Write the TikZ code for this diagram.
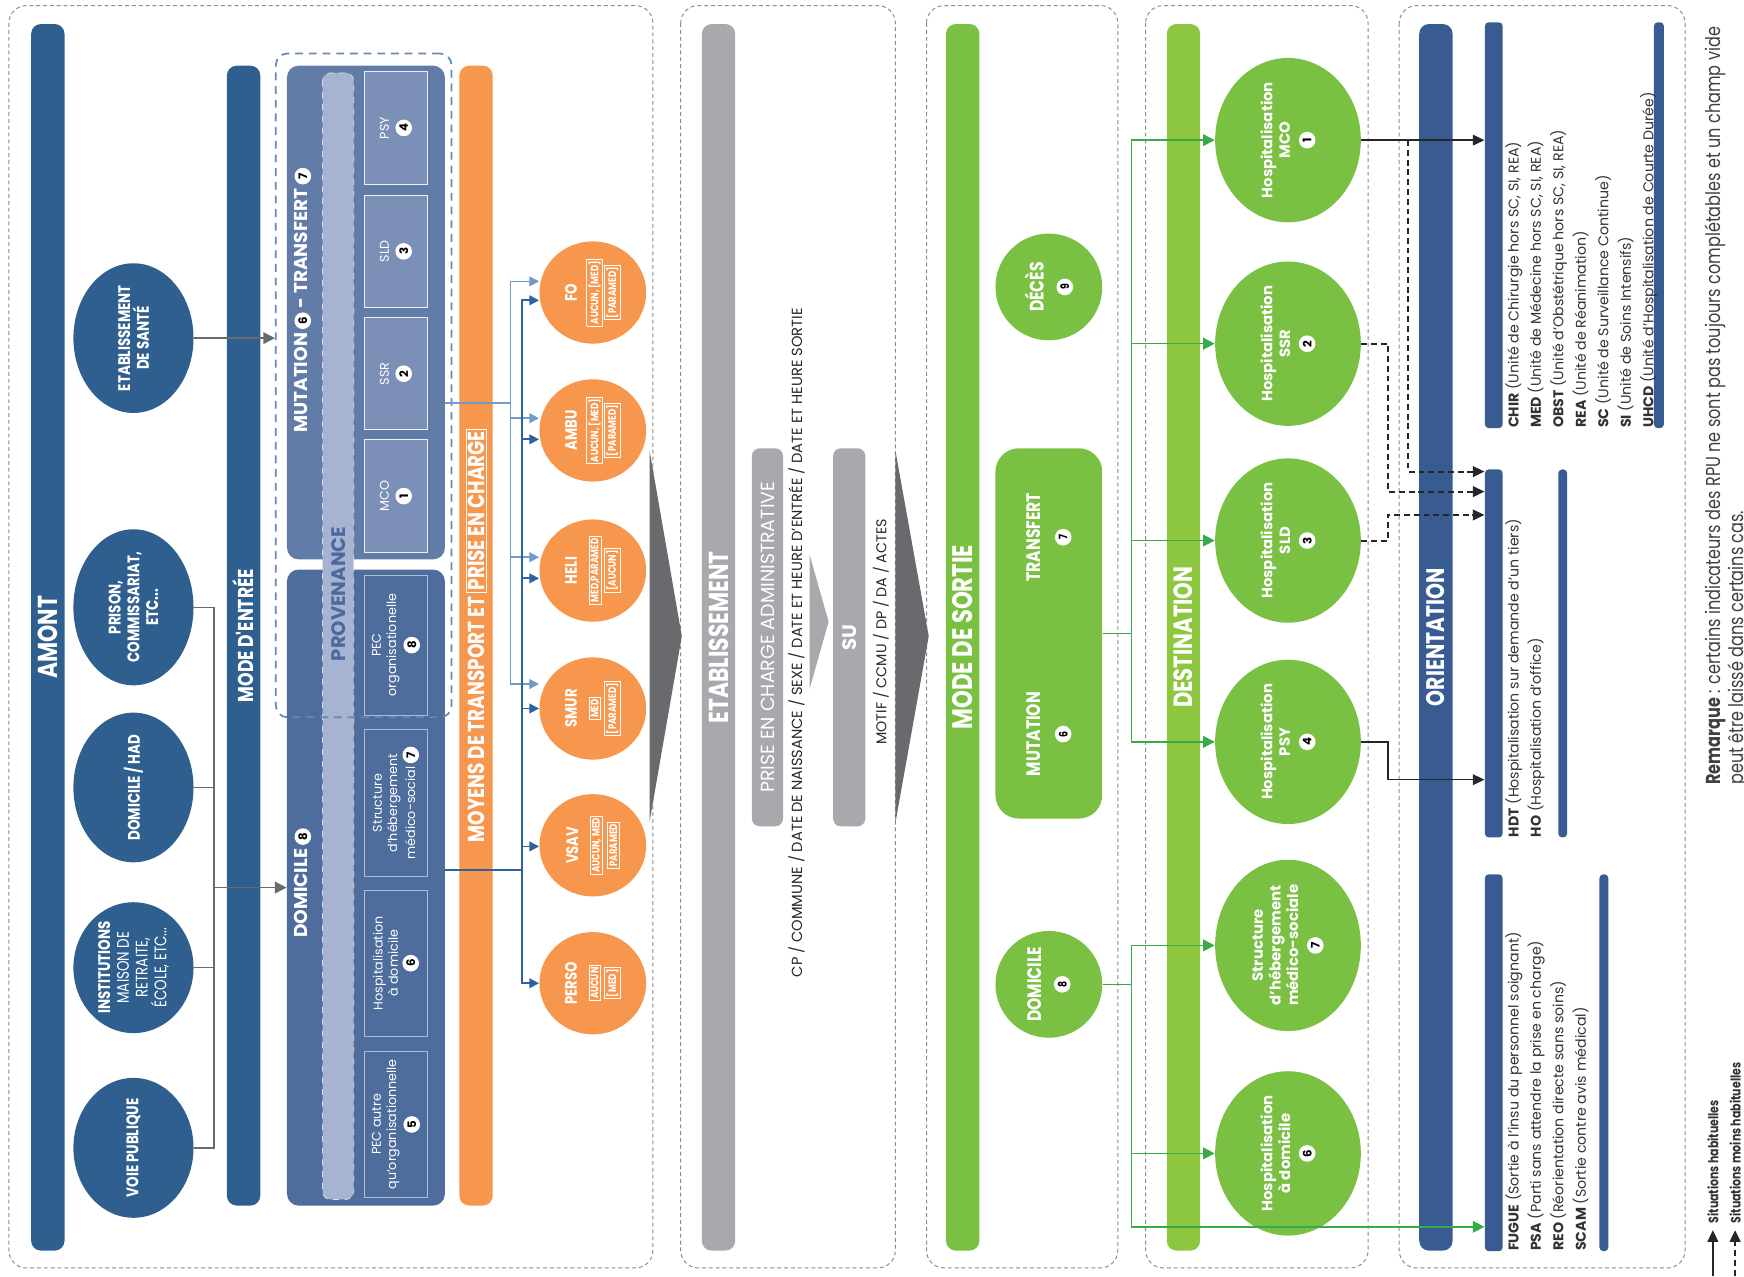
\documentclass[tikz,border=0pt]{standalone}
\usepackage{fontspec}
\setmainfont{Poppins}
\newfontfamily\condfont[FakeStretch=0.8]{Poppins}
\usetikzlibrary{positioning, arrows.meta, shapes.geometric, calc}

\definecolor{amontblue}{RGB}{47,95,143}
\definecolor{mutblue}{RGB}{98,124,168}
\definecolor{subblue}{RGB}{124,143,183}
\definecolor{domblue}{RGB}{78,108,156}
\definecolor{provband}{RGB}{166,179,209}
\definecolor{provtext}{RGB}{74,106,158}
\definecolor{transorange}{RGB}{247,150,77}
\definecolor{etabgray}{RGB}{167,169,172}
\definecolor{darkgray}{RGB}{105,106,109}
\definecolor{sortiegreen}{RGB}{122,192,66}
\definecolor{destgreen}{RGB}{141,198,63}
\definecolor{linkgreen}{RGB}{57,170,73}
\definecolor{orientblue}{RGB}{56,92,145}
\definecolor{lightlink}{RGB}{112,155,200}
\definecolor{darklink}{RGB}{47,96,160}

% white disc with the code number
\newcommand\cnum[1]{\tikz[baseline=(c.base)]\node[circle, fill=white, inner sep=0pt,
  minimum size=8.5pt, text=black, font=\fontsize{6}{6}\selectfont\bfseries] (c) {#1};}
\newcommand\hilite[1]{{\setlength\fboxsep{0.7pt}\setlength\fboxrule{0.45pt}\fcolorbox{white}{transorange}{#1}}}
\newcommand\hlsmall[1]{{\fontsize{5.5}{6.5}\selectfont\hilite{#1}}}

\begin{document}
\begin{tikzpicture}[x=0.02cm, y=-0.02cm,
    panel/.style={draw=black!45, dash pattern=on 2pt off 1.5pt, line width=0.5pt, rounded corners=9pt},
    colbar/.style={rotate=90, rounded corners=5pt, inner sep=0pt, text=white,
      minimum width=22.06cm, minimum height=0.6cm},
    entbar/.style={colbar, minimum width=20.5cm},
    blobA/.style={ellipse, rotate=90, fill=amontblue, minimum width=2.16cm, minimum height=2.16cm,
      inner sep=0pt, text=white, align=center, font=\condfont\bfseries\fontsize{8.6}{9.6}\selectfont},
    boxM/.style={rotate=90, rounded corners=6pt, minimum height=2.84cm},
    subbox/.style={rotate=90, line width=0.5pt, text=white, align=center, inner sep=1pt,
      minimum height=1.12cm, font=\fontsize{6.5}{7.8}\selectfont},
    blobT/.style={ellipse, rotate=90, fill=transorange, minimum width=1.84cm, minimum height=1.92cm,
      inner sep=0pt, text=white, align=center, font=\condfont\bfseries\fontsize{8.5}{9}\selectfont},
    blobG/.style={ellipse, rotate=90, fill=sortiegreen, minimum width=1.92cm, minimum height=1.92cm,
      inner sep=0pt, text=white, align=center, font=\condfont\bfseries\fontsize{10}{11}\selectfont},
    blobD/.style={ellipse, rotate=90, fill=sortiegreen, minimum width=2.68cm, minimum height=2.62cm,
      inner sep=0pt, text=white, align=center, font=\bfseries\fontsize{7.6}{9}\selectfont},
    thinbar/.style={rotate=90, fill=orientblue, rounded corners=2pt, inner sep=0pt},
    listtext/.style={rotate=90, anchor=north west, align=left, inner sep=0pt, text=black!80,
      font=\fontsize{7.25}{11.5}\selectfont},
    grayarrow/.style={draw=darkgray, line width=0.8pt, -{Triangle[length=6pt, width=6pt]}},
    grayline/.style={draw=darkgray, line width=0.8pt},
    greenarrow/.style={draw=linkgreen, line width=0.8pt, -{Triangle[length=6pt, width=6pt]}},
    blackarrow/.style={draw=black!85, line width=0.8pt, -{Triangle[length=6pt, width=5.5pt]}},
    dasharrow/.style={blackarrow, dash pattern=on 3pt off 2pt, line width=1pt},
]
\useasboundingbox (0,0) rectangle (1568,1148);

% panels
\draw[panel] (8,5) rectangle (587,1140);
\draw[panel] (612,5) rectangle (805,1140);
\draw[panel] (833,5) rectangle (1005,1140);
\draw[panel] (1030,5) rectangle (1230,1140);
\draw[panel] (1258,5) rectangle (1515,1140);

% amont
\node[colbar, fill=amontblue, font=\condfont\bfseries\fontsize{14}{16}\selectfont] (amont) at (43,573) {AMONT};
\node[blobA] (ets) at (120,304) {ETABLISSEMENT\\DE SANTÉ};
\node[blobA] (prison) at (120,546) {PRISON,\\COMMISSARIAT,\\ETC...};
\node[blobA] (domhad) at (120,708) {DOMICILE / HAD};
\node[blobA] (inst) at (120,870) {INSTITUTIONS\\\mdseries MAISON DE\\\mdseries RETRAITE,\\\mdseries ÉCOLE, ETC...};
\node[blobA] (voie) at (120,1032) {VOIE PUBLIQUE};

% mode d'entree
\node[entbar, fill=amontblue, font=\condfont\bfseries\fontsize{11}{13}\selectfont] (modein) at (219,571.5) {MODE D'ENTRÉE};
\node[boxM, fill=mutblue, minimum width=8.88cm] (mutbox) at (329,281) {};
\node[boxM, fill=domblue, minimum width=11.44cm] (dombox) at (329,798) {};
\node[rotate=90, fill=provband, draw=white!55!provband, dashed, rounded corners=4pt,
      minimum width=20.26cm, minimum height=0.56cm, inner sep=0pt] (prov) at (304,572) {};
\node[rotate=90, text=provtext, font=\bfseries\fontsize{10}{12}\selectfont] (provlabel) at (304,534) {PROVENANCE};
\node[rotate=90, text=white, font=\bfseries\fontsize{9.5}{11}\selectfont] (mutlabel) at (272,270)
  {MUTATION \cnum{6} - TRANSFERT \cnum{7}};
\node[rotate=90, text=white, font=\bfseries\fontsize{9.5}{11}\selectfont] (domlabel) at (272,794)
  {DOMICILE \cnum{8}};

\node[subbox, fill=subblue, draw=white!85!subblue, minimum width=2.02cm] (pmco) at (356,446) {MCO\\[2pt]\cnum{1}};
\node[subbox, fill=subblue, draw=white!85!subblue, minimum width=2.02cm] (pssr) at (356,336) {SSR\\[2pt]\cnum{2}};
\node[subbox, fill=subblue, draw=white!85!subblue, minimum width=2.02cm] (psld) at (356,226) {SLD\\[2pt]\cnum{3}};
\node[subbox, fill=subblue, draw=white!85!subblue, minimum width=2.02cm] (ppsy) at (356,115) {PSY\\[2pt]\cnum{4}};
\node[subbox, fill=domblue, draw=white!55!domblue, minimum width=2.52cm] (porg) at (356,580)
  {PEC\\organisationelle\\[1pt]\cnum{8}};
\node[subbox, fill=domblue, draw=white!55!domblue, minimum width=2.64cm] (pstruct) at (356,722)
  {Structure\\d'hébergement\\médico-social \cnum{7}};
\node[subbox, fill=domblue, draw=white!55!domblue, minimum width=2.62cm] (phad) at (356,866)
  {Hospitalisation\\à domicile\\[1pt]\cnum{6}};
\node[subbox, fill=domblue, draw=white!55!domblue, minimum width=2.62cm] (pautre) at (356,1011)
  {PEC autre\\qu'organisationnelle\\[1pt]\cnum{5}};
\node[draw=lightlink!90!black, line width=0.9pt, dash pattern=on 4pt off 3pt, rounded corners=6pt,
      minimum width=3.16cm, minimum height=11.94cm] (mutgroup) at (327,346.5) {};

\draw[grayarrow] (ets.south) -- (mutgroup.west |- ets.south);
\draw[grayline] (prison.south) -- ++(18,0) coordinate (jtop) -- (jtop |- voie.south) -- (voie.south);
\draw[grayline] (domhad.south) -- (jtop |- domhad.south);
\draw[grayline] (inst.south) -- (jtop |- inst.south);
\draw[grayarrow] (jtop |- dombox.north) -- (dombox.north);

% transport
\node[entbar, fill=transorange, font=\condfont\bfseries\fontsize{11.8}{13}\selectfont] (transport) at (428,571.5)
  {MOYENS DE TRANSPORT ET \hilite{PRISE EN CHARGE}};
\node[blobT] (fo) at (533,263) {FO\\[2pt]\hlsmall{AUCUN, [MED]}\\\hlsmall{[PARAMED]}};
\node[blobT] (ambu) at (533,387) {AMBU\\[2pt]\hlsmall{AUCUN, [MED]}\\\hlsmall{[PARAMED]}};
\node[blobT] (heli) at (533,513) {HELI\\[2pt]\hlsmall{MED,PARAMED}\\\hlsmall{[AUCUN]}};
\node[blobT] (smur) at (533,637) {SMUR\\[2pt]\hlsmall{MED}\\\hlsmall{[PARAMED]}};
\node[blobT] (vsav) at (533,760) {VSAV\\[2pt]\hlsmall{AUCUN, MED}\\\hlsmall{PARAMED}};
\node[blobT] (perso) at (533,884) {PERSO\\[2pt]\hlsmall{AUCUN}\\\hlsmall{[MED]}};

\coordinate (mutout) at (mutbox.south |- 0,362);
\coordinate (domout) at (dombox.south |- 0,782);
\foreach \t/\yy in {fo/253, ambu/376, heli/501, smur/615}
  \draw[lightlink, line width=0.9pt, -{Triangle[length=5pt, width=5pt]}] (mutout) -| (459,\yy) -- (\t.north |- 0,\yy);
\foreach \t/\yy in {fo/270, ambu/395, heli/520, smur/637, vsav/761, perso/884}
  \draw[darklink, line width=0.9pt, -{Triangle[length=5pt, width=5pt]}] (domout) -| (469,\yy) -- (\t.north |- 0,\yy);

\fill[darkgray] (584,405) -- (613,572) -- (584,739) -- cycle;

% etablissement
\node[colbar, fill=etabgray, font=\condfont\bfseries\fontsize{14}{16}\selectfont] (etab) at (646,573) {ETABLISSEMENT};
\node[rotate=90, fill=etabgray, rounded corners=4pt, minimum width=6.8cm, minimum height=0.56cm, inner sep=0pt,
      text=white, font=\fontsize{9.7}{12}\selectfont] (pecadm) at (690,573) {PRISE EN CHARGE ADMINISTRATIVE};
\node[rotate=90, fill=etabgray, rounded corners=4pt, minimum width=6.8cm, minimum height=0.58cm, inner sep=0pt,
      text=white, font=\bfseries\fontsize{10}{12}\selectfont] (su) at (763.5,573) {SU};
\node[rotate=90, text=black!85, font=\fontsize{7.5}{9}\selectfont] (cpline) at (716,578)
  {CP / COMMUNE / DATE DE NAISSANCE / SEXE / DATE ET HEURE D'ENTRÉE / DATE ET HEURE SORTIE};
\node[rotate=90, text=black!85, font=\fontsize{7.3}{9}\selectfont] (motif) at (792,568)
  {MOTIF / CCMU / DP / DA / ACTES};
\fill[etabgray] (728,499) -- (745,559) -- (728,619) -- cycle;
\fill[darkgray] (805,405) -- (835,572) -- (805,740) -- cycle;

% mode de sortie
\node[colbar, fill=sortiegreen, font=\condfont\bfseries\fontsize{14.5}{16}\selectfont] (sortie) at (865.5,573) {MODE DE SORTIE};
\node[blobG] (sdeces) at (943,258) {DÉCÈS\\[2pt]\cnum{9}};
\node[rotate=90, fill=sortiegreen, rounded corners=12pt, minimum width=6.66cm, minimum height=1.92cm] (smut) at (943,569.5) {};
\node[rotate=90, text=white, align=center, font=\condfont\bfseries\fontsize{10}{11}\selectfont] (stransf) at (943,483)
  {TRANSFERT\\[3pt]\cnum{7}};
\node[rotate=90, text=white, align=center, font=\condfont\bfseries\fontsize{10}{11}\selectfont] (smutat) at (943,660)
  {MUTATION\\[3pt]\cnum{6}};
\node[blobG] (sdom) at (943,885) {DOMICILE\\[2pt]\cnum{8}};

% destination
\node[colbar, fill=destgreen, font=\condfont\bfseries\fontsize{13.5}{16}\selectfont] (destin) at (1064,573) {DESTINATION};
\node[blobD] (hmco) at (1158,126) {Hospitalisation\\MCO\\[2pt]\cnum{1}};
\node[blobD] (hssr) at (1158,309) {Hospitalisation\\SSR\\[2pt]\cnum{2}};
\node[blobD] (hsld) at (1158,486) {Hospitalisation\\SLD\\[2pt]\cnum{3}};
\node[blobD] (hpsy) at (1158,667) {Hospitalisation\\PSY\\[2pt]\cnum{4}};
\node[blobD] (hstruct) at (1158,850) {Structure\\d'hébergement\\médico-sociale\\[2pt]\cnum{7}};
\node[blobD] (hdom) at (1158,1037) {Hospitalisation\\à domicile\\[2pt]\cnum{6}};

% orientation
\node[colbar, fill=orientblue, font=\condfont\bfseries\fontsize{13}{16}\selectfont] (orient) at (1291,573) {ORIENTATION};
\node[thinbar, minimum width=7.3cm, minimum height=0.32cm] (chirbar) at (1343,202.5) {};
\node[thinbar, minimum width=7.3cm, minimum height=0.18cm] (chirend) at (1491.5,202.5) {};
\node[thinbar, minimum width=6.62cm, minimum height=0.32cm] (hdtbar) at (1343,587.5) {};
\node[thinbar, minimum width=6.62cm, minimum height=0.16cm] (hdtend) at (1405,587.5) {};
\node[thinbar, minimum width=6.78cm, minimum height=0.32cm] (fuguebar) at (1343,955.5) {};
\node[thinbar, minimum width=6.78cm, minimum height=0.16cm] (fugueend) at (1442,955.5) {};
\node[listtext] (chirtext) at (1353,385)
  {\textbf{CHIR} (Unité de Chirurgie hors SC, SI, REA)\\
   \textbf{MED} (Unité de Médecine hors SC, SI, REA)\\
   \textbf{OBST} (Unité d'Obstétrique hors SC, SI, REA)\\
   \textbf{REA} (Unité de Réanimation)\\
   \textbf{SC} (Unité de Surveillance Continue)\\
   \textbf{SI} (Unité de Soins Intensifs)\\
   \textbf{UHCD} (Unité d'Hospitalisation de Courte Durée)};
\node[listtext] (hdttext) at (1353,753)
  {\textbf{HDT} (Hospitalisation sur demande d'un tiers)\\
   \textbf{HO} (Hospitalisation d'office)};
\node[listtext] (fuguetext) at (1353,1125)
  {\textbf{FUGUE} (Sortie à l'insu du personnel soignant)\\
   \textbf{PSA} (Parti sans attendre la prise en charge)\\
   \textbf{REO} (Réorientation directe sans soins)\\
   \textbf{SCAM} (Sortie contre avis médical)};

% connectors sortie -> destination -> orientation
\foreach \h in {hmco, hssr, hsld, hpsy}
  \draw[greenarrow] (smut.south) -- ++(26,0) |- (\h.north);
\foreach \h in {hstruct, hdom}
  \draw[greenarrow] (sdom.south) -- ++(26,0) |- (\h.north);
\draw[greenarrow] (sdom.south) -- ++(26,0) |- (fuguebar.north |- 0,1103);

\draw[blackarrow] (hmco.south) -- coordinate[pos=0.38] (mcojoin) (chirbar.north |- hmco.south);
\draw[dasharrow] (mcojoin) |- (hdtbar.north |- 0,424);
\draw[dasharrow] (hssr.south) -- ++(24,0) |- (hdtbar.north |- 0,442);
\draw[dasharrow] (hsld.south) -- ++(24,0) |- (hdtbar.north |- 0,463);
\draw[blackarrow] (hpsy.south) -- ++(24,0) |- (hdtbar.north |- 0,701);

% remark and legend
\node[rotate=90, anchor=north west, align=left, inner sep=0pt, text=black!75,
      font=\condfont\fontsize{10.3}{9.9}\selectfont] (remark) at (1532,706)
  {\textbf{Remarque} : certains indicateurs des RPU ne sont pas toujours complétables et un champ vide\\
   peut être laissé dans certains cas.};
\node[rotate=90, anchor=west, text=black!80, font=\condfont\bfseries\fontsize{7}{8}\selectfont] (leg1) at (1540,1106) {Situations habituelles};
\node[rotate=90, anchor=west, text=black!80, font=\condfont\bfseries\fontsize{7}{8}\selectfont] (leg2) at (1560,1106) {Situations moins habituelles};
\coordinate (leg1s) at (1540,1147);
\coordinate (leg2s) at (1560,1147);
\draw[blackarrow] (leg1s) -- (leg1.west);
\draw[dasharrow] (leg2s) -- (leg2.west);
\end{tikzpicture}
\end{document}
